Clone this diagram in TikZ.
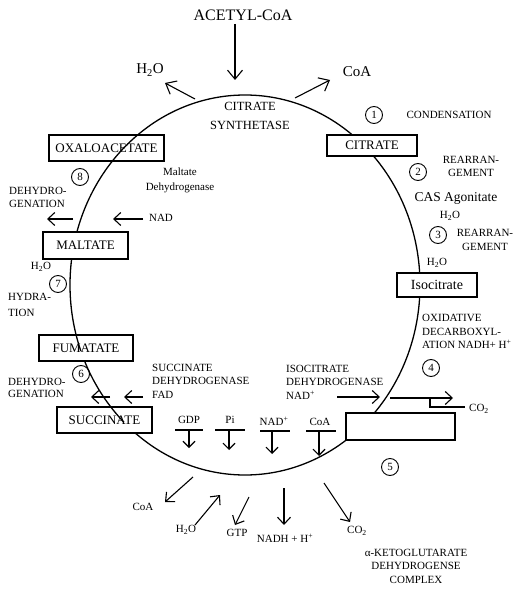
\documentclass[tikz,border=0pt]{standalone}
\usepackage{fontspec}
\setmainfont{Liberation Serif}
\usetikzlibrary{arrows.meta}
\begin{document}
\begin{tikzpicture}[x=1pt,y=-1pt,
  curve/.style={line width=1.3pt},
  box/.style={draw, fill=white, line width=1.1pt, inner sep=0pt, font=\fontsize{13}{15}\selectfont},
  num/.style={circle, draw, line width=0.9pt, minimum size=17pt, inner sep=0pt, font=\fontsize{11}{13}\selectfont},
  arr/.style={line width=1.1pt, -{Straight Barb[length=7pt,width=13pt]}},
  bigarr/.style={line width=1.1pt, -{Straight Barb[length=9pt,width=15pt]}},
  smallarr/.style={line width=1.1pt, -{Straight Barb[length=6pt,width=12pt]}},
  ln/.style={line width=1.1pt},
  lbl/.style={inner sep=0pt, align=left, font=\fontsize{11}{13.5}\selectfont},
  clbl/.style={inner sep=0pt, align=center, font=\fontsize{11}{13.5}\selectfont},
  big/.style={inner sep=0pt, align=center, font=\fontsize{15}{17}\selectfont}
]
\useasboundingbox[fill=white] (0,0) rectangle (523,593);

% main cycle
\draw[curve] (245,285) ellipse [x radius=175pt, y radius=190pt];

% boxes
\node[box, minimum width=115pt, minimum height=26pt] (oxa) at (106.5,148) {OXALOACETATE};
\node[box, minimum width=90pt, minimum height=21pt] (cit) at (372,145.5) {CITRATE};
\node[box, minimum width=85pt, minimum height=27pt] (mal) at (85.5,245.5) {MALTATE};
\node[box, minimum width=80pt, minimum height=24pt, font=\fontsize{14}{16}\selectfont] (iso) at (437,285) {Isocitrate};
\node[box, minimum width=94pt, minimum height=26pt] (fum) at (86,348) {FUMATATE};
\node[box, minimum width=95pt, minimum height=26pt] (suc) at (104.5,420) {SUCCINATE};
\node[box, minimum width=109pt, minimum height=27pt] (akg) at (400.5,426.5) {};

% curve segments visible over boxes
\begin{scope}
  \clip (49,135) rectangle (164,161);
  \draw[curve] (245,285) ellipse [x radius=175pt, y radius=190pt];
\end{scope}
\begin{scope}
  \clip (39,335) rectangle (133,350);
  \draw[curve] (245,285) ellipse [x radius=175pt, y radius=190pt];
\end{scope}
\begin{scope}
  \clip (57,407) rectangle (152,421);
  \draw[curve] (245,285) ellipse [x radius=175pt, y radius=190pt];
\end{scope}

% step numbers
\node[num] (n1) at (374,115) {1};
\node[num] (n2) at (418,172) {2};
\node[num] (n3) at (438,235) {3};
\node[num] (n4) at (431,368) {4};
\node[num] (n5) at (390,467) {5};
\node[num] (n6) at (81,374) {6};
\node[num] (n7) at (58,284) {7};
\node[num] (n8) at (80,177) {8};

% top
\node[inner sep=0pt, font=\fontsize{16}{18}\selectfont] (acetyl) at (243,15) {ACETYL-CoA};
\coordinate (acA) at (235,24);
\coordinate (acB) at (235,80);
\draw[bigarr] (acA) -- (acB);
\node[big] (h2otop) at (150,70) {H\textsubscript{2}O};
\coordinate (h2oA) at (195,99);
\coordinate (h2oB) at (165,83);
\draw[bigarr] (h2oA) -- (h2oB);
\node[big] (coatop) at (357,72) {CoA};
\coordinate (coaA) at (295,98);
\coordinate (coaB) at (330,80);
\draw[bigarr] (coaA) -- (coaB);
\node[inner sep=0pt, align=center, font=\fontsize{12.5}{19}\selectfont] (cs) at (250,115.5) {CITRATE\\SYNTHETASE};

% right side
\node[lbl] (cond) at (449,115) {CONDENSATION};
\node[clbl] (rear1) at (471,166.5) {REARRAN-\\GEMENT};
\node[inner sep=0pt, font=\fontsize{13.5}{15}\selectfont] (cas) at (456,198) {CAS Agonitate};
\node[lbl] (h2or1) at (450,216) {H\textsubscript{2}O};
\node[clbl] (rear2) at (485,240) {REARRAN-\\GEMENT};
\node[lbl] (h2or2) at (437,263) {H\textsubscript{2}O};
\node[lbl, anchor=west] (oxid) at (422,331.5) {OXIDATIVE\\DECARBOXYL-\\ATION NADH+ H\textsuperscript{+}};
\node[lbl, anchor=west] (isodh) at (286,382) {ISOCITRATE\\DEHYDROGENASE\\NAD\textsuperscript{+}};
\coordinate (idA) at (337,397);
\coordinate (idB) at (380,397);
\draw[arr] (idA) -- (idB);
\coordinate (co2A) at (390,398);
\coordinate (co2B) at (453,398);
\draw[arr] (co2A) -- (co2B);
\coordinate (brA) at (430,398);
\coordinate (brB) at (430,407);
\coordinate (brC) at (465,407);
\draw[ln] (brA) -- (brB) -- (brC);
\node[lbl] (co2r) at (479,409) {CO\textsubscript{2}};

% bottom
\node[clbl] (akgtxt) at (416,566) {α-KETOGLUTARATE\\DEHYDROGENSE\\COMPLEX};
\node[lbl] (co2b) at (357,531) {CO\textsubscript{2}};
\coordinate (b1A) at (324,483);
\coordinate (b1B) at (350,522);
\draw[arr] (b1A) -- (b1B);
\node[lbl] (nadh) at (285,538) {NADH + H\textsuperscript{+}};
\coordinate (b2A) at (284,488);
\coordinate (b2B) at (284,525);
\draw[arr] (b2A) -- (b2B);
\node[lbl] (gtp) at (237,533) {GTP};
\coordinate (b3A) at (249,497);
\coordinate (b3B) at (235,525);
\draw[arr] (b3A) -- (b3B);
\node[lbl] (h2ob) at (186,530) {H\textsubscript{2}O};
\coordinate (b4A) at (195,525);
\coordinate (b4B) at (220,495);
\draw[arr] (b4A) -- (b4B);
\node[lbl] (coab) at (143,507) {CoA};
\coordinate (b5A) at (193,477);
\coordinate (b5B) at (165,502);
\draw[arr] (b5A) -- (b5B);

% inputs on bottom arc
\node[lbl] (gdp) at (189,420) {GDP};
\coordinate (gdpL) at (175,430); \coordinate (gdpR) at (203,430);
\coordinate (gdpT) at (189,430); \coordinate (gdpB) at (189,448);
\draw[ln] (gdpL) -- (gdpR); \draw[smallarr] (gdpT) -- (gdpB);
\node[lbl] (pi) at (230,420) {Pi};
\coordinate (piL) at (215,430); \coordinate (piR) at (245,430);
\coordinate (piT) at (229,430); \coordinate (piB) at (229,450);
\draw[ln] (piL) -- (piR); \draw[smallarr] (piT) -- (piB);
\node[lbl] (nadi) at (274,421) {NAD\textsuperscript{+}};
\coordinate (nadL) at (260,431); \coordinate (nadR) at (290,431);
\coordinate (nadT) at (272,431); \coordinate (nadB) at (272,454);
\draw[ln] (nadL) -- (nadR); \draw[smallarr] (nadT) -- (nadB);
\node[lbl] (coai) at (320,422) {CoA};
\coordinate (coaL) at (306,431); \coordinate (coaR) at (336,431);
\coordinate (coaT) at (319,431); \coordinate (coaB2) at (319,456);
\draw[ln] (coaL) -- (coaR); \draw[smallarr] (coaT) -- (coaB2);

% left side
\node[clbl] (mdh) at (180,180.5) {Maltate\\[1.5pt]Dehydrogenase};
\node[lbl, anchor=west] (dh1) at (9,197.5) {DEHYDRO-\\GENATION};
\coordinate (dh1A) at (73,219); \coordinate (dh1B) at (47,219);
\draw[arr] (dh1A) -- (dh1B);
\node[lbl] (nadl) at (161,218) {NAD};
\coordinate (nadlA) at (143,219); \coordinate (nadlB) at (113,219);
\draw[arr] (nadlA) -- (nadlB);
\node[lbl] (h2ol) at (41,267) {H\textsubscript{2}O};
\node[lbl, anchor=west, font=\fontsize{11}{16}\selectfont] (hyd) at (8,305) {HYDRA-\\TION};
\node[lbl, anchor=west, font=\fontsize{11}{12.5}\selectfont] (dh2) at (8,388) {DEHYDRO-\\GENATION};
\coordinate (dh2A) at (110,397); \coordinate (dh2B) at (91,397);
\draw[arr] (dh2A) -- (dh2B);
\coordinate (fadA) at (143,397); \coordinate (fadB) at (124,397);
\draw[arr] (fadA) -- (fadB);
\node[lbl, anchor=west] (sdh) at (152,381) {SUCCINATE\\DEHYDROGENASE\\FAD};
\end{tikzpicture}
\end{document}
